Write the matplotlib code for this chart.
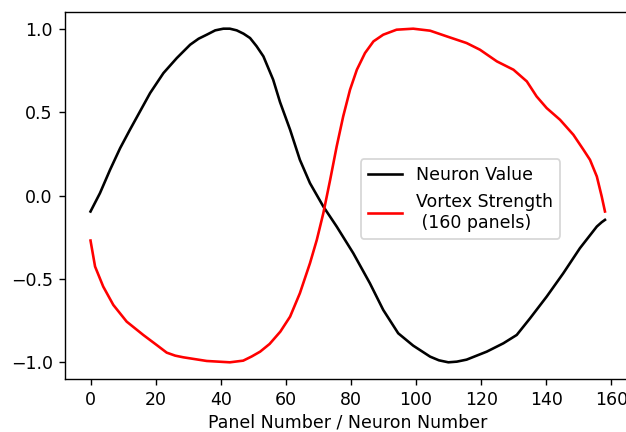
import matplotlib
matplotlib.use("Agg")
import matplotlib.pyplot as plt

# Neuron Value (black)
neuron_x = [0, 2.9, 6.0, 9.1, 12.1, 15.2, 18.3, 22.4, 26.5, 30.6, 33.2, 35.7,
            38.3, 40.8, 42.8, 44.9, 47.0, 49.0, 51.0, 53.1, 56.1, 58.2, 61.3,
            64.3, 67.4, 71.5, 75.6, 80.7, 85.8, 89.9, 94.5, 99.1, 104.3, 107.0,
            109.9, 112.5, 115.5, 121.7, 126.8, 130.9, 135.0, 140.1, 145.2,
            150.3, 155.5, 157.0, 158.0]
neuron_y = [-0.096, 0.014, 0.154, 0.284, 0.394, 0.504, 0.614, 0.734, 0.824,
            0.904, 0.94, 0.964, 0.99, 1.0, 1.0, 0.99, 0.97, 0.944, 0.895, 0.834,
            0.694, 0.56, 0.394, 0.214, 0.074, -0.066, -0.186, -0.346, -0.526,
            -0.686, -0.826, -0.90, -0.966, -0.988, -1.0, -0.996, -0.984, -0.936,
            -0.886, -0.836, -0.736, -0.606, -0.466, -0.316, -0.186, -0.16, -0.146]

# Vortex Strength (red)
vortex_x = [0, 1.4, 3.9, 7.0, 11.1, 16.2, 20.3, 23.4, 26.0, 28.5, 35.7, 42.8,
            46.9, 49.5, 52.1, 55.0, 58.3, 61.3, 64.3, 67.4, 69.5, 71.5, 73.6,
            75.6, 77.6, 79.7, 81.8, 84.3, 86.9, 89.9, 94.0, 99.1, 104.3, 109.4,
            115.5, 119.6, 124.8, 129.9, 134.0, 137.0, 140.1, 144.2, 148.3,
            151.4, 153.4, 155.5, 157.0, 158.0]
vortex_y = [-0.27, -0.426, -0.546, -0.656, -0.756, -0.836, -0.896, -0.942,
            -0.96, -0.97, -0.992, -1.0, -0.99, -0.965, -0.936, -0.89, -0.816,
            -0.726, -0.586, -0.406, -0.266, -0.106, 0.094, 0.294, 0.474, 0.634,
            0.754, 0.854, 0.924, 0.964, 0.994, 1.0, 0.988, 0.954, 0.914, 0.874,
            0.804, 0.754, 0.684, 0.594, 0.524, 0.454, 0.364, 0.274, 0.214,
            0.114, -0.006, -0.096]

fig = plt.figure(figsize=(626 / 125, 432 / 125), dpi=125)
ax = fig.add_axes([0.1035, 0.1227, 0.904, 0.8495])

ax.plot(neuron_x, neuron_y, color="black", label="Neuron Value")
ax.plot(vortex_x, vortex_y, color="red", label="Vortex Strength\n (160 panels)")

ax.set_xlim(-7.9, 165.9)
ax.set_ylim(-1.1, 1.1)
ax.set_xticks([0, 20, 40, 60, 80, 100, 120, 140, 160])
ax.set_yticks([-1.0, -0.5, 0.0, 0.5, 1.0])
ax.set_xlabel("Panel Number / Neuron Number", labelpad=2.5)

ax.legend(loc="upper left", bbox_to_anchor=(0.523, 0.599), borderaxespad=0)

fig.savefig("out.png", dpi=125)
